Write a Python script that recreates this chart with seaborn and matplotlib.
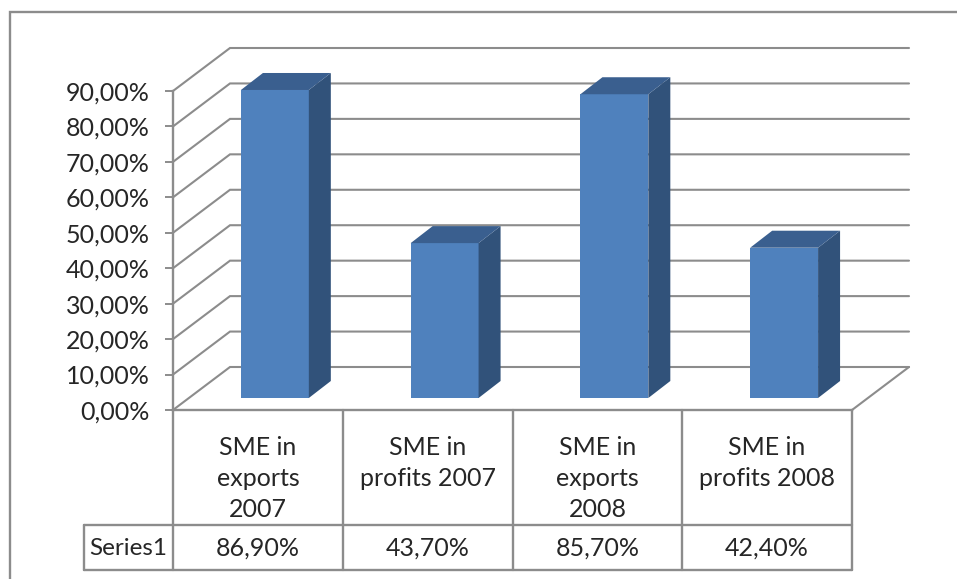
import matplotlib
matplotlib.use("Agg")
import matplotlib.pyplot as plt
import pandas as pd
import seaborn as sns
from matplotlib.patches import Polygon, Rectangle

categories = ["SME in\nexports\n2007", "SME in\nprofits 2007", "SME in\nexports\n2008", "SME in\nprofits 2008"]
shares = [86.9, 43.7, 85.7, 42.4]
share_labels = ["86,90%", "43,70%", "85,70%", "42,40%"]
y_ticks = [0, 10, 20, 30, 40, 50, 60, 70, 80, 90]
y_tick_labels = ["0,00%", "10,00%", "20,00%", "30,00%", "40,00%", "50,00%", "60,00%", "70,00%", "80,00%", "90,00%"]
series_name = "Series1"

W, H = 957, 579
GRAY = "#8c8c8c"
TXT = "#262626"
FS = 18

sns.set_theme(style="white")
plt.rcParams["font.family"] = ["Lato", "DejaVu Sans"]

fig = plt.figure(figsize=(W / 100, H / 100), dpi=100)
ax = fig.add_axes([173 / W, 1 - 410 / H, (852 - 173) / W, (410 - 91) / H])
ax.patch.set_alpha(0)

# outer chart frame: runs off the right and bottom edges of the picture
fig.add_artist(Rectangle((9.5 / W, -0.05), 1.05, 1.05 - 11.5 / H, transform=fig.transFigure,
                         fill=False, ec=GRAY, lw=1.7))

px_x = 1 / 169.75
px_y = 90 / 319
depth_x, depth_y = 57 * px_x, 43 * px_y
base_x, base_y = 17 * px_x, 12 * px_y
bar_dx, bar_dy = 22 * px_x, 17 * px_y

df = pd.DataFrame({"category": categories, "share": shares})
sns.barplot(data=df, x="category", y="share", color="#4F81BD", saturation=1, width=0.4,
            bottom=base_y, ax=ax, zorder=3, linewidth=0)
ax.set_xlim(-0.5, 3.5)
ax.set_ylim(0, 90)
ax.set_xlabel("")
ax.set_ylabel("")

# perspective walls and gridlines
L, R = -0.5, 3.5
for t in y_ticks:
    ax.plot([L, L + depth_x, R + depth_x], [t, t + depth_y, t + depth_y], color=GRAY, lw=1.5,
            clip_on=False, zorder=1, solid_joinstyle="miter")
ax.plot([R, R + depth_x], [0, depth_y], color=GRAY, lw=1.5, clip_on=False, zorder=1)

# extruded side and top faces of every bar
for patch in ax.patches:
    patch.set_x(patch.get_x() + base_x)
    patch.set_clip_on(False)
    x0, x1 = patch.get_x(), patch.get_x() + patch.get_width()
    y0, y1 = patch.get_y(), patch.get_y() + patch.get_height()
    ax.add_patch(Polygon([(x1, y0), (x1 + bar_dx, y0 + bar_dy), (x1 + bar_dx, y1 + bar_dy), (x1, y1)],
                         fc="#31527A", ec="none", clip_on=False, zorder=3))
    ax.add_patch(Polygon([(x0, y1), (x1, y1), (x1 + bar_dx, y1 + bar_dy), (x0 + bar_dx, y1 + bar_dy)],
                         fc="#3A5F8F", ec="none", clip_on=False, zorder=3))

# axes
for s in ("top", "right"):
    ax.spines[s].set_visible(False)
for s in ("left", "bottom"):
    ax.spines[s].set_color(GRAY)
    ax.spines[s].set_linewidth(1.7)
ax.set_yticks(y_ticks)
ax.set_yticklabels(y_tick_labels, fontsize=FS, color=TXT)
ax.tick_params(axis="y", left=True, length=6, width=1.4, color=GRAY, pad=11)
ax.tick_params(axis="x", bottom=False, pad=13)
ax.set_xticks(range(len(categories)))
ax.set_xticklabels(categories, fontsize=FS, color=TXT, linespacing=1.42, va="top")

# data table under the plot
row1 = -115 * px_y
row2 = -160 * px_y
head = L - 89 * px_x
for x in [L, L + 1, L + 2, L + 3, R]:
    ax.plot([x, x], [0, row2], color=GRAY, lw=1.7, clip_on=False, zorder=2)
ax.plot([head, R], [row1, row1], color=GRAY, lw=1.7, clip_on=False, zorder=2)
ax.plot([head, R], [row2, row2], color=GRAY, lw=1.7, clip_on=False, zorder=2)
ax.plot([head, head], [row1, row2], color=GRAY, lw=1.7, clip_on=False, zorder=2)
ymid = (row1 + row2) / 2 - 1 * px_y
for i, lab in enumerate(share_labels):
    ax.text(i, ymid, lab, ha="center", va="center", fontsize=FS, color=TXT, clip_on=False)
ax.text((head + L) / 2, ymid, series_name, ha="center", va="center", fontsize=FS - 0.5, color=TXT, clip_on=False)

fig.savefig("out.png", dpi=100)
